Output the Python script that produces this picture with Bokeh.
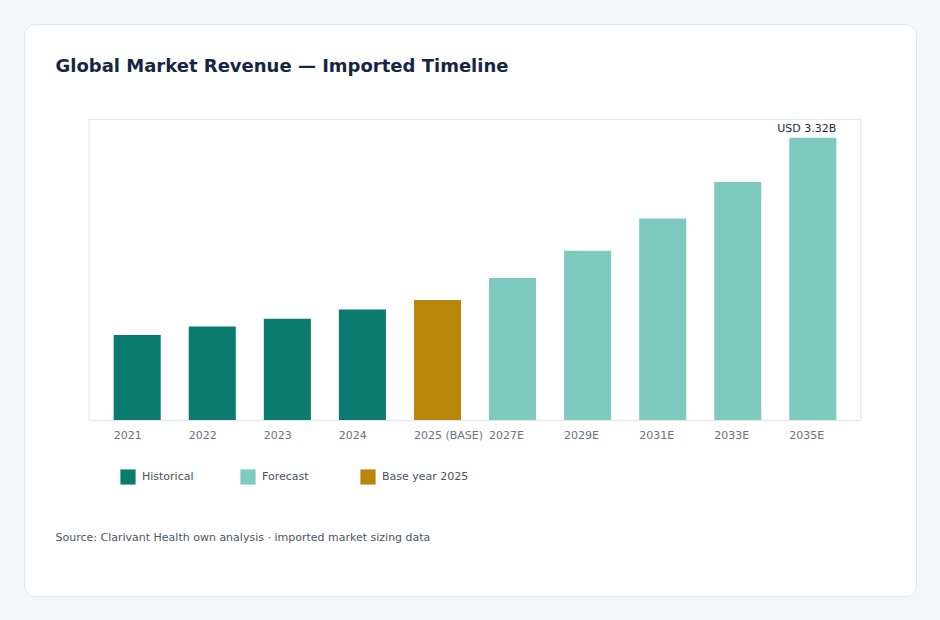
from bokeh.plotting import figure
from bokeh.models import (ColumnDataSource, Label, LabelSet, Legend, LegendItem,
                          Range1d, BoxAnnotation)
from bokeh.layouts import column
from bokeh.core.properties import value
from bokeh.embed import file_html
from bokeh.resources import INLINE

# --- data -------------------------------------------------------------
periods = ["2021", "2022", "2023", "2024", "2025 (BASE)",
           "2027E", "2029E", "2031E", "2033E", "2035E"]
revenue_usd_bn = [1.00, 1.10, 1.19, 1.30, 1.41, 1.67, 1.99, 2.37, 2.80, 3.32]
phase = ["Historical", "Historical", "Historical", "Historical", "Base year 2025",
         "Forecast", "Forecast", "Forecast", "Forecast", "Forecast"]
legend_order = ["Historical", "Forecast", "Base year 2025"]
peak_label = "USD 3.32B"

title_text = "Global Market Revenue \u2014 Imported Timeline"
source_text = "Source: Clarivant Health own analysis \u00b7 imported market sizing data"

# --- styling ----------------------------------------------------------
phase_colors = {"Historical": "#0b7b6f", "Forecast": "#7ecac1", "Base year 2025": "#b8860b"}
FONT = "DejaVu Sans"
BAR_WIDTH = 0.627
X_PAD = 0.6333          # room either side of the outer bars inside the plot box
Y_MAX = 3.532           # top of the plot box

# card canvas and the plot box inside it (pixels)
CARD_W, CARD_H = 891, 571
BOX_LEFT, BOX_RIGHT, BOX_TOP, BOX_BOTTOM = 64, 833, 94, 393

n = len(periods)
x_span = (n - 1) + 2 * X_PAD
px_x = (BOX_RIGHT - BOX_LEFT) / x_span
px_y = (BOX_BOTTOM - BOX_TOP) / Y_MAX
x0 = -X_PAD - BOX_LEFT / px_x
x1 = (n - 1) + X_PAD + (CARD_W - BOX_RIGHT) / px_x
y0 = -(CARD_H - BOX_BOTTOM) / px_y
y1 = Y_MAX + BOX_TOP / px_y

p = figure(width=CARD_W + 2, height=CARD_H + 2,
           x_range=Range1d(x0, x1), y_range=Range1d(y0, y1),
           output_backend="svg", toolbar_location=None,
           min_border=0)
p.xaxis.visible = False
p.yaxis.visible = False
p.grid.visible = False
p.background_fill_color = "white"
p.border_fill_color = "white"
p.outline_line_color = None

# light box around the bar area (nudged half a pixel so the 1px edge stays crisp)
hx, hy = 0.5 / px_x, 0.5 / px_y
p.add_layout(BoxAnnotation(left=-X_PAD - hx, right=(n - 1) + X_PAD + hx,
                           bottom=-hy, top=Y_MAX + hy,
                           fill_alpha=0, line_color="#e0e4e9", line_alpha=1,
                           line_width=1, level="underlay"))

# bars, one renderer per phase so the legend can list them in order
renderers = {}
for ph in legend_order:
    xs = [i for i, v in enumerate(phase) if v == ph]
    src = ColumnDataSource(dict(x=xs, top=[revenue_usd_bn[i] for i in xs]))
    renderers[ph] = p.vbar(x="x", top="top", bottom=0, width=BAR_WIDTH, source=src,
                           fill_color=phase_colors[ph], line_color=None)

# category labels, left-aligned with each bar's left edge
tick_src = ColumnDataSource(dict(x=[i - BAR_WIDTH / 2 for i in range(n)], text=periods))
p.add_layout(LabelSet(x="x", y=160, y_units="screen", text="text", source=tick_src,
                      text_font=value(FONT), text_font_size=value("11px"),
                      text_color="#6b7280", text_align="left",
                      text_baseline="alphabetic"))

# value call-out on the last bar
last = n - 1
p.add_layout(Label(x=last + BAR_WIDTH / 2, y=revenue_usd_bn[last], y_offset=9,
                   text=peak_label, text_font=FONT, text_font_size="11px",
                   text_color="#1c2b45", text_align="right",
                   text_baseline="alphabetic"))

# title and source note
p.add_layout(Label(x=30, y=533, x_units="screen", y_units="screen", text=title_text,
                   text_font=FONT, text_font_size="18px", text_font_style="bold",
                   text_color="#152642", text_baseline="alphabetic"))
p.add_layout(Label(x=30, y=61, x_units="screen", y_units="screen", text=source_text,
                   text_font=FONT, text_font_size="11px",
                   text_color="#4b5563", text_baseline="alphabetic"))

legend = Legend(items=[LegendItem(label=ph, renderers=[renderers[ph]]) for ph in legend_order],
                orientation="horizontal", location=(93, 112),
                glyph_width=19, glyph_height=19, label_height=19,
                label_standoff=5, label_width=96, spacing=0,
                padding=0, margin=0, border_line_alpha=0, background_fill_alpha=0,
                label_text_font=FONT, label_text_font_size="11px",
                label_text_color="#4a5261")
p.add_layout(legend, "center")

# white rounded card on a pale page
p.styles = {"border": "1px solid #e1e6ec", "border-radius": "12px", "overflow": "hidden"}
p.margin = (24, 0, 0, 24)
page = column(p, width=940, height=620, styles={"background-color": "#f4f7fa"})

open("out.html", "w").write(file_html(page, INLINE))
